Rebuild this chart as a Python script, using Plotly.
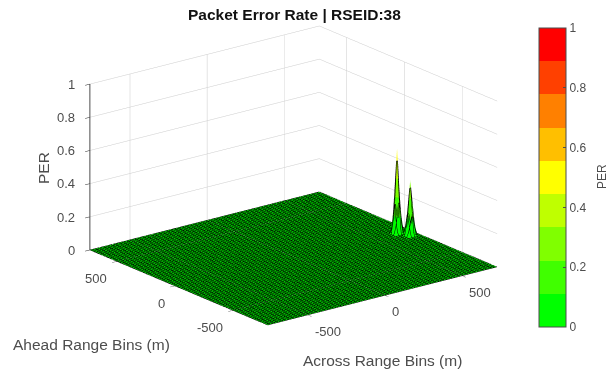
import numpy as np
import plotly.graph_objects as go

TITLE = "Packet Error Rate | RSEID:38"
X_RANGE = [-760, 727]
Y_RANGE = [-800, 733]
Z_TICKS = [0, 0.2, 0.4, 0.6, 0.8, 1]
Z_LABELS = ["0", "0.2", "0.4", "0.6", "0.8", "1"]
XY_TICKS = [-500, 0, 500]
XY_LABELS = ["-500", "0", "500"]
N_ACROSS = 88
N_AHEAD = 91
# peak cells: (across m, ahead m, PER)
PEAK_CELLS = [
    (642, -51, 0.51), (625, -51, 0.22), (659, -51, 0.20), (642, -34, 0.21), (642, -68, 0.23),
    (625, -68, 0.06), (659, -34, 0.05), (625, -34, 0.05), (659, -68, 0.07),
    (676, -119, 0.33), (659, -119, 0.15), (693, -119, 0.16), (676, -102, 0.15), (676, -136, 0.14),
    (693, -136, 0.05), (659, -136, 0.05), (693, -102, 0.05), (659, -102, 0.06),
]
BAND_COLORS = ["#00ff00", "#40ff00", "#80ff00", "#bfff00", "#ffff00",
               "#ffbf00", "#ff8000", "#ff4000", "#ff0000"]

across = np.linspace(X_RANGE[0], X_RANGE[1], N_ACROSS)
ahead = np.linspace(Y_RANGE[0], Y_RANGE[1], N_AHEAD)
per = np.zeros((N_AHEAD, N_ACROSS))
for xv, yv, zv in PEAK_CELLS:
    per[np.abs(ahead - yv).argmin(), np.abs(across - xv).argmin()] = zv

scale = []
for i, c in enumerate(BAND_COLORS):
    scale += [[i / 9, c], [(i + 1) / 9, c]]

GREY = "#4d4d4d"
FONT = "Liberation Sans"
axis = dict(showbackground=False, showgrid=True, gridcolor="#cccccc", gridwidth=1,
            zeroline=False, showspikes=False, ticks="outside", ticklen=6, tickwidth=1, tickcolor="#222222",
            showticklabels=True, title=dict(text=""))
tick_font = dict(family=FONT, size=13, color=GREY)

scene_notes = []
for v, t in zip(Z_TICKS, Z_LABELS):
    scene_notes.append(dict(x=X_RANGE[0], y=Y_RANGE[1], z=v, text=t, showarrow=False, font=tick_font,
                            xanchor="right", yanchor="middle", xshift=-13))
for v, t in zip(XY_TICKS, XY_LABELS):
    scene_notes.append(dict(x=X_RANGE[0], y=v, z=0, text=t, showarrow=False, font=tick_font,
                            xanchor="right", yanchor="middle", xshift=-8, yshift=-17))
    scene_notes.append(dict(x=v, y=Y_RANGE[0], z=0, text=t, showarrow=False, font=tick_font,
                            xanchor="left", yanchor="middle", xshift=5, yshift=-16))

fig = go.Figure(go.Surface(
    x=across, y=ahead, z=per, cmin=0, cmax=1, colorscale=scale,
    lighting=dict(ambient=1, diffuse=0, specular=0, roughness=1, fresnel=0),
    contours=dict(
        x=dict(show=True, start=X_RANGE[0], end=X_RANGE[1], size=(X_RANGE[1] - X_RANGE[0]) / (N_ACROSS - 1),
               color="black", width=1, highlight=False),
        y=dict(show=True, start=Y_RANGE[0], end=Y_RANGE[1], size=(Y_RANGE[1] - Y_RANGE[0]) / (N_AHEAD - 1),
               color="black", width=1, highlight=False),
        z=dict(highlight=False)),
    colorbar=dict(
        thickness=27, thicknessmode="pixels", len=299, lenmode="pixels",
        x=539 / 609, xanchor="left", xref="paper",
        y=1 - 327 / 377, yanchor="bottom", yref="paper", ypad=0, xpad=0,
        outlinecolor=GREY, outlinewidth=1, tickvals=Z_TICKS, ticktext=Z_LABELS, ticks="inside", ticklen=3,
        tickcolor=GREY, tickfont=dict(family=FONT, size=12, color=GREY)),
))
fig.update_layout(
    width=609, height=377, margin=dict(l=0, r=0, t=0, b=0, autoexpand=False), paper_bgcolor="white",
    scene=dict(
        domain=dict(x=[0, 0.964], y=[0.068, 1]),
        aspectmode="manual", aspectratio=dict(x=1.654, y=1.654, z=1.0),
        camera=dict(projection=dict(type="orthographic"),
                    eye=dict(x=-0.612 * 0.945 * 1.7, y=-0.79 * 0.945 * 1.7, z=0.327 * 1.7),
                    center=dict(x=0, y=0, z=0), up=dict(x=0, y=0, z=1)),
        xaxis=dict(axis, range=X_RANGE, tickvals=XY_TICKS, ticktext=[" "] * 3),
        yaxis=dict(axis, range=Y_RANGE, tickvals=XY_TICKS, ticktext=[" "] * 3),
        zaxis=dict(axis, range=[0, 1], tickvals=Z_TICKS, ticktext=[" "] * 6,
                   showline=True, linecolor=GREY, linewidth=2),
        annotations=scene_notes,
    ),
    annotations=[
        dict(text=f"<b>{TITLE}</b>", x=294 / 609, y=1 - 15 / 377, xref="paper", yref="paper", showarrow=False,
             xanchor="center", yanchor="middle", font=dict(family=FONT, size=15.5, color="#111")),
        dict(text="PER", x=43 / 609, y=1 - 168 / 377, xref="paper", yref="paper", showarrow=False, textangle=-90,
             xanchor="center", yanchor="middle", font=dict(family=FONT, size=15.5, color=GREY)),
        dict(text="Ahead Range Bins (m)", x=91.5 / 609, y=1 - 344 / 377, xref="paper", yref="paper", showarrow=False,
             xanchor="center", yanchor="middle", font=dict(family=FONT, size=15.5, color=GREY)),
        dict(text="Across Range Bins (m)", x=382 / 609, y=1 - 360 / 377, xref="paper", yref="paper", showarrow=False,
             xanchor="center", yanchor="middle", font=dict(family=FONT, size=15.5, color=GREY)),
        dict(text="PER", x=602 / 609, y=1 - 177 / 377, xref="paper", yref="paper", showarrow=False, textangle=-90,
             xanchor="center", yanchor="middle", font=dict(family=FONT, size=12, color=GREY)),
    ],
)
fig.write_html("out.html", config=dict(displayModeBar=False), post_script="document.body.style.margin='0';")
